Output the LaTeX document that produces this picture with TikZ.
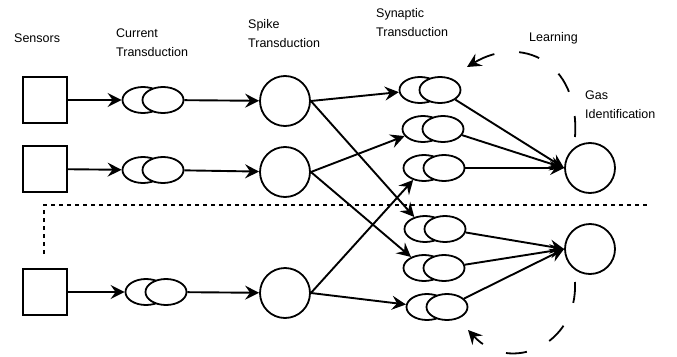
\documentclass[tikz,border=0pt]{standalone}
\usepackage{fontspec}
\setmainfont{Liberation Sans}
\usetikzlibrary{shapes.geometric, arrows.meta, positioning, calc}

\begin{document}
\begin{tikzpicture}[
        x=1pt, y=-1pt,
        % --- styles ---
        sensor/.style={rectangle, draw, line width=1.8pt, minimum width=44pt, minimum height=46pt, inner sep=0pt},
        syn/.style={ellipse, draw, line width=1.8pt, fill=white, minimum width=41pt, minimum height=26pt, inner sep=0pt},
        neuron/.style={circle, draw, line width=1.8pt, minimum size=50pt, inner sep=0pt},
        lbl/.style={anchor=west, align=left, inner sep=0pt, font=\fontsize{12.5}{19}\selectfont},
        line/.style={draw, line width=1.9pt, -{Stealth[length=14pt, width=14pt, inset=5pt]}},
        divider/.style={draw, line width=1.8pt, dash pattern=on 4pt off 4pt},
        learn/.style={draw, line width=1.8pt, dash pattern=on 21pt off 25pt, -{Stealth[length=14pt, width=14pt, inset=5pt]}}
    ]
    \useasboundingbox (0,0) rectangle (677,356);

    % --- labels ---
    \node[lbl] (sensors) at (14,38) {Sensors};
    \node[lbl] (current) at (116,42.5) {Current\\Transduction};
    \node[lbl] (spike) at (248,33.5) {Spike\\Transduction};
    \node[lbl] (synaptic) at (376,22.5) {Synaptic\\Transduction};
    \node[lbl] (learning) at (529,38) {Learning};
    \node[lbl] (gasid) at (585,105) {Gas\\Identification};

    % --- sensors ---
    \node[sensor] (sen1) at (45,100) {};
    \node[sensor] (sen2) at (45,169) {};
    \node[sensor] (sen3) at (45,292) {};

    % --- current transduction ---
    \node[syn] (cur1a) at (143,100) {};
    \node[syn] (cur1b) at ([xshift=20pt]cur1a) {};
    \node[syn] (cur2a) at (143,170) {};
    \node[syn] (cur2b) at ([xshift=20pt]cur2a) {};
    \node[syn] (cur3a) at (146,292) {};
    \node[syn] (cur3b) at ([xshift=20pt]cur3a) {};

    % --- spike transduction ---
    \node[neuron] (spk1) at (285,101) {};
    \node[neuron] (spk2) at (285,172) {};
    \node[neuron] (spk3) at (285,293) {};

    % --- synaptic transduction ---
    \node[syn] (syn1a) at (420,90) {};
    \node[syn] (syn1b) at ([xshift=20pt]syn1a) {};
    \node[syn] (syn2a) at (423,129) {};
    \node[syn] (syn2b) at ([xshift=20pt]syn2a) {};
    \node[syn] (syn3a) at (424,168) {};
    \node[syn] (syn3b) at ([xshift=20pt]syn3a) {};
    \node[syn] (syn4a) at (425,229) {};
    \node[syn] (syn4b) at ([xshift=20pt]syn4a) {};
    \node[syn] (syn5a) at (424,268) {};
    \node[syn] (syn5b) at ([xshift=20pt]syn5a) {};
    \node[syn] (syn6a) at (427,307) {};
    \node[syn] (syn6b) at ([xshift=20pt]syn6a) {};

    % --- gas identification ---
    \node[neuron] (gas1) at (590,168) {};
    \node[neuron] (gas2) at (590,249) {};

    % --- connectors ---
    \path[line] (sen1) -- (cur1a);
    \path[line] (sen2) -- (cur2a);
    \path[line] (sen3) -- (cur3a);
    \path[line] (cur1b) -- (spk1);
    \path[line] (cur2b) -- (spk2);
    \path[line] (cur3b) -- (spk3);

    \path[line] (spk1.east) -- (syn1a);
    \path[line] (spk1.east) -- (syn4a);
    \path[line] (spk2.east) -- (syn2a);
    \path[line] (spk2.east) -- (syn5a);
    \path[line] (spk3.east) -- (syn3a);
    \path[line] (spk3.east) -- (syn6a);

    \path[line] (syn1b) -- (gas1.west);
    \path[line] (syn2b) -- (gas1.west);
    \path[line] (syn3b) -- (gas1.west);
    \path[line] (syn4b) -- (gas2.west);
    \path[line] (syn5b) -- (gas2.west);
    \path[line] (syn6b) -- (gas2.west);

    % --- dotted divider ---
    \coordinate (div1) at (44,254);
    \coordinate (div2) at (44,205);
    \coordinate (div3) at (650,205);
    \path[divider] (div1) -- (div2) -- (div3);

    % --- learning loops ---
    \coordinate (learn1s) at (575,137);
    \coordinate (learn1e) at (467,67);
    \path[learn] (learn1s) .. controls (580,60) and (520,35) .. (learn1e);
    \coordinate (learn2s) at (575,282);
    \coordinate (learn2e) at (468,330);
    \path[learn] (learn2s) .. controls (578,345) and (510,375) .. (learn2e);

\end{tikzpicture}
\end{document}
